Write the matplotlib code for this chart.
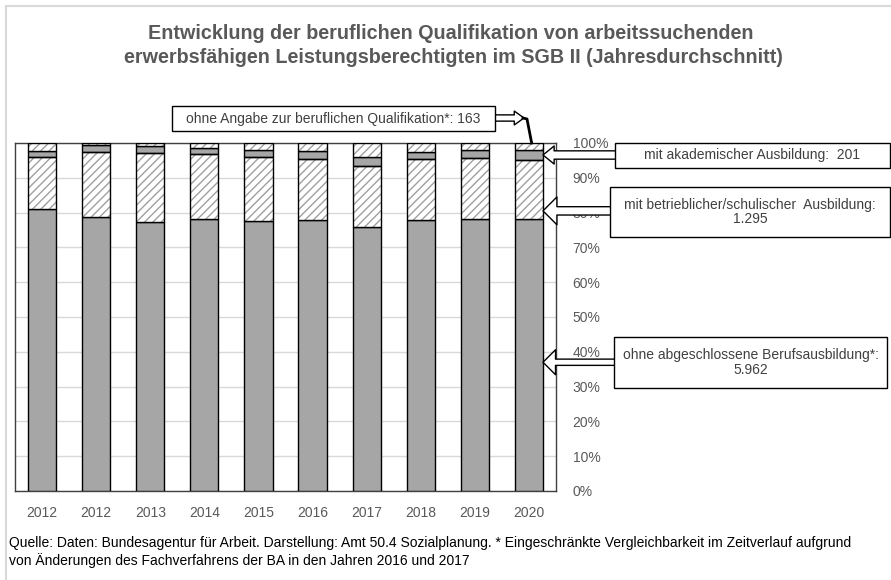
import matplotlib
matplotlib.use("Agg")
import matplotlib.pyplot as plt
import numpy as np
from matplotlib import font_manager
from matplotlib.patches import Rectangle, FancyArrowPatch
from matplotlib.lines import Line2D

plt.rcParams['font.family'] = ['Liberation Sans', 'DejaVu Sans']
plt.rcParams['hatch.linewidth'] = 1.0

# narrow font for axis labels and callouts (like Arial Narrow), if available
try:
    font_manager.findfont('Liberation Sans Narrow', fallback_to_default=False)
    schmal = ['Liberation Sans Narrow', 'Liberation Sans']
    gr = 12
except ValueError:
    schmal = ['Liberation Sans', 'DejaVu Sans']
    gr = 10

# Anteile in Prozent
jahre = ['2012', '2012', '2013', '2014', '2015', '2016', '2017', '2018', '2019', '2020']
ohne_abschluss = [81.0, 78.8, 77.3, 78.1, 77.7, 77.9, 75.8, 77.9, 78.1, 78.2]
betrieblich    = [15.0, 18.7, 19.7, 18.6, 18.2, 17.5, 17.5, 17.5, 17.6, 17.0]
akademisch     = [1.7, 2.0, 2.0, 2.0, 2.2, 2.2, 2.7, 2.0, 2.2, 2.7]
ohne_angabe    = [100 - a - b - c for a, b, c in zip(ohne_abschluss, betrieblich, akademisch)]

# Werte 2020 (absolut) fuer die Beschriftungen
wert_angabe = '163'
wert_akad = '201'
wert_betr = '1.295'
wert_ohne = '5.962'

W, H = 891, 580
fig = plt.figure(figsize=(W / 100, H / 100), dpi=100)

# plot area in pixels: x 15..556, y 143..491
ax = fig.add_axes([15 / W, 1 - 491 / H, 541 / W, 348 / H])

x = np.arange(len(jahre))
bw = 0.52
grau = '#A6A6A6'

def solid(vals, bottom):
    ax.bar(x, vals, bw, bottom=bottom, color=grau, edgecolor='black', lw=1, zorder=3)

def hatched(vals, bottom):
    ax.bar(x, vals, bw, bottom=bottom, color='white', edgecolor='#A0A0A0',
           hatch='////', lw=0, zorder=3)
    ax.bar(x, vals, bw, bottom=bottom, fill=False, edgecolor='black', lw=1, zorder=4)

b0 = np.zeros(len(jahre))
solid(ohne_abschluss, b0)
b1 = b0 + np.array(ohne_abschluss)
hatched(betrieblich, b1)
b2 = b1 + np.array(betrieblich)
solid(akademisch, b2)
b3 = b2 + np.array(akademisch)
hatched(ohne_angabe, b3)

ax.set_xlim(-0.5, len(jahre) - 0.5)
ax.set_ylim(0, 100)
ax.set_xticks(x)
ax.set_xticklabels(jahre, family=schmal)
ax.set_yticks(np.arange(0, 101, 10))
ax.set_yticklabels([f'{v}%' for v in range(0, 101, 10)], family=schmal)
ax.yaxis.tick_right()
ax.tick_params(axis='both', length=0, labelsize=gr, labelcolor='#595959')
ax.tick_params(axis='x', pad=11)
ax.tick_params(axis='y', pad=12)
for lab in ax.get_yticklabels():
    lab.set_horizontalalignment('left')
ax.yaxis.grid(True, color='#D9D9D9', lw=1)
ax.set_axisbelow(True)
for s in ax.spines.values():
    s.set_color('#404040')
    s.set_linewidth(1)

# overlay in pixel coordinates for frame, title and callouts
ov = fig.add_axes([0, 0, 1, 1], zorder=10)
ov.set_xlim(0, W)
ov.set_ylim(H, 0)
ov.axis('off')

ov.add_line(Line2D([6, W], [6, 6], color='#D9D9D9', lw=1.5))
ov.add_line(Line2D([6, 6], [6, H], color='#D9D9D9', lw=1.5))

ov.text(451, 39, 'Entwicklung der beruflichen Qualifikation von arbeitssuchenden',
        ha='center', va='baseline', fontsize=14.2, fontweight='bold', color='#595959')
ov.text(453, 63, 'erwerbsfähigen Leistungsberechtigten im SGB II (Jahresdurchschnitt)',
        ha='center', va='baseline', fontsize=14.2, fontweight='bold', color='#595959')

ov.text(9, 547, 'Quelle: Daten: Bundesagentur für Arbeit. Darstellung: Amt 50.4 Sozialplanung. '
        '* Eingeschränkte Vergleichbarkeit im Zeitverlauf aufgrund',
        ha='left', va='baseline', fontsize=10, color='black')
ov.text(9, 565, 'von Änderungen des Fachverfahrens der BA in den Jahren 2016 und 2017',
        ha='left', va='baseline', fontsize=10, color='black')

txtcol = '#404040'

def box(x0, y0, x1, y1, text):
    ov.add_patch(Rectangle((x0, y0), x1 - x0, y1 - y0, fc='white', ec='black', lw=1, zorder=5))
    ov.text((x0 + x1) / 2, (y0 + y1) / 2, text, ha='center', va='center', family=schmal,
            fontsize=gr, color=txtcol, zorder=6, linespacing=1.05)

def pfeil(start, ziel, tail, hw, hl):
    arr = FancyArrowPatch(start, ziel,
                          arrowstyle=f'simple,head_length={hl},head_width={hw},tail_width={tail}',
                          fc='white', ec='black', lw=1, zorder=4, shrinkA=0, shrinkB=0,
                          transform=ov.transData)
    ov.add_patch(arr)

ix = len(jahre) - 1
to_px = lambda xd, yd: ov.transData.inverted().transform(ax.transData.transform((xd, yd)))

# ohne Angabe
box(172, 106, 495, 131, f'ohne Angabe zur beruflichen Qualifikation*: {wert_angabe}')
pfeil((495, 118), (524, 118), 4.5, 10, 7)
top = to_px(ix + 0.05, 100)
ov.add_line(Line2D([523, 527, top[0]], [118, 119, top[1]], color='black', lw=2, zorder=4))

# akademisch
tip = to_px(ix + bw / 2, b2[ix] + akademisch[ix] / 2)
pfeil((616, tip[1]), tuple(tip), 6, 13, 8)
box(615, 143, 890, 168, f'mit akademischer Ausbildung:  {wert_akad}')

# betrieblich
tip = to_px(ix + bw / 2, 80.5)
pfeil((611, tip[1]), tuple(tip), 6, 20, 10)
box(610, 187, 890, 237, f'mit betrieblicher/schulischer  Ausbildung:\n{wert_betr}')

# ohne Abschluss
tip = to_px(ix + bw / 2, 37)
pfeil((615, tip[1]), tuple(tip), 4.5, 18, 9)
box(614, 337, 887, 388, f'ohne abgeschlossene Berufsausbildung*:\n{wert_ohne}')

fig.savefig('out.png', dpi=100)
